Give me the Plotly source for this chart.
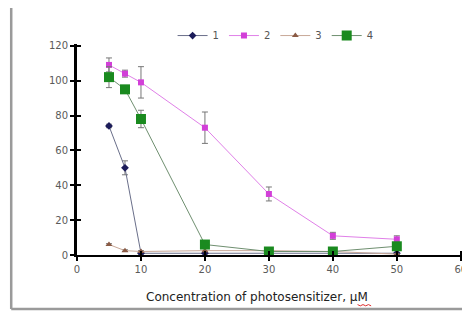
import plotly.graph_objects as go

conc = [5, 7.5, 10, 20, 30, 40, 50]
s1 = [74, 50, 1, 1, 1, 1, 1]
s1_err = [1, 4, 0.5, 0, 0, 0, 0]
s2 = [109, 104, 99, 73, 35, 11, 9]
s2_err = [4, 2, 9, 9, 4, 2, 2]
s3 = [6, 2.5, 2, 2.5, 2.5, 2, 0.5]
s3_err = [0.5, 0.5, 0.5, 0, 0, 0, 0]
s4 = [102, 95, 78, 6, 2, 2, 5]
s4_err = [6, 2, 5, 1, 0.5, 0.5, 1]
names = ["1", "2", "3", "4"]
x_ticks = [0, 10, 20, 30, 40, 50, 60]
y_ticks = [0, 20, 40, 60, 80, 100, 120]
x_title = "Concentration of photosensitizer, μM"

fig = go.Figure()

def add(y, err, name, lc, mc, sym, size):
    fig.add_trace(go.Scatter(
        x=conc, y=y, name=name, mode="lines+markers",
        line=dict(color=lc, width=1),
        marker=dict(color=mc, symbol=sym, size=size, line=dict(width=0)),
        error_y=dict(type="data", array=err, visible=True, color="#777777",
                     thickness=1, width=3),
    ))

add(s1, s1_err, names[0], "#6a6f8a", "#1c1c5a", "diamond", 6)
add(s2, s2_err, names[1], "#e080e8", "#d23fd8", "square", 6)
add(s3, s3_err, names[2], "#c8a898", "#8a5a44", "triangle-up", 6)
add(s4, s4_err, names[3], "#6f8f70", "#1a8a1f", "square", 10)

tick_font = dict(family="DejaVu Sans", size=10, color="#5a5a5a")

XR = [0, 60.5]
YR = [0, 121]

# page body adds an 8px offset, so the figure is 8px smaller and shifted
fig.update_layout(
    width=462, height=303,
    margin=dict(l=69, r=6, t=36, b=56, autoexpand=False),
    paper_bgcolor="white", plot_bgcolor="white",
    showlegend=True,
    legend=dict(orientation="h", x=0.247, y=1.04, xanchor="left", yanchor="middle",
                font=dict(family="DejaVu Sans", size=10, color="#555555"),
                bgcolor="rgba(0,0,0,0)", itemwidth=30, entrywidth=0,
                entrywidthmode="pixels", tracegroupgap=0),
    xaxis=dict(range=XR, tickvals=x_ticks, showgrid=False, zeroline=False,
               showline=True, linecolor="black", linewidth=2, automargin=False,
               ticks="outside", ticklen=4, tickwidth=2, tickcolor="black",
               tickfont=tick_font),
    yaxis=dict(range=YR, tickvals=y_ticks, showgrid=False, zeroline=False,
               showline=True, linecolor="black", linewidth=3, automargin=False,
               ticks="outside", ticklen=4, tickwidth=2, tickcolor="black",
               tickfont=tick_font),
    xaxis2=dict(overlaying="x", range=XR, tickvals=x_ticks, showgrid=False,
                zeroline=False, showline=False, ticks="inside", ticklen=4, tickwidth=2,
                tickcolor="black", showticklabels=False, side="bottom", anchor="y"),
    yaxis2=dict(overlaying="y", range=YR, tickvals=y_ticks, showgrid=False,
                zeroline=False, showline=False, ticks="inside", ticklen=4, tickwidth=2,
                tickcolor="black", showticklabels=False, side="left", anchor="x"),
)

fig.add_trace(go.Scatter(x=[None], y=[None], xaxis="x2", yaxis="y2", showlegend=False))

fig.add_annotation(text=x_title, xref="paper", yref="paper", x=0.464, y=-0.2,
                   showarrow=False, xanchor="center", yanchor="middle",
                   font=dict(family="DejaVu Sans", size=12, color="#222222"))

for x0, y0, x1, y1 in [(-0.17, -0.256, -0.17, 1.186),
                       (-0.17, 1.186, 1.03, 1.186),
                       (-0.17, -0.256, 1.03, -0.256)]:
    fig.add_shape(type="line", xref="paper", yref="paper", x0=x0, y0=y0, x1=x1, y1=y1,
                  line=dict(color="#9a9a9a", width=2.5))

fig.add_shape(type="path", xref="paper", yref="paper",
              path="M 0.725 -0.235 L 0.732 -0.241 L 0.739 -0.235 L 0.746 -0.241 L 0.753 -0.235 L 0.760 -0.241",
              line=dict(color="#e03030", width=1))

fig.write_html("out.html")
